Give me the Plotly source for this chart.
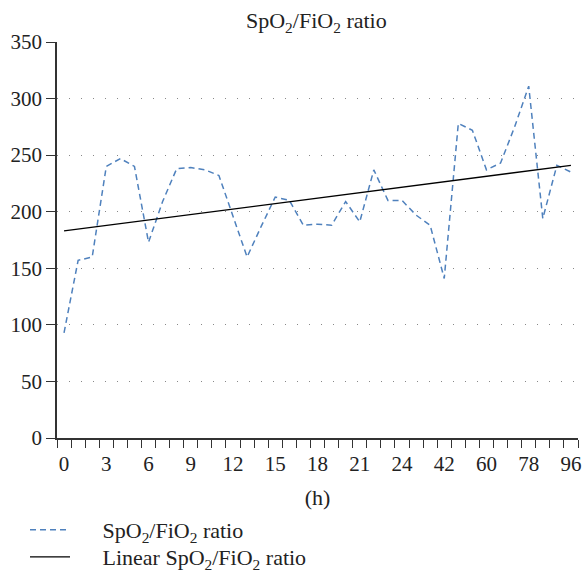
import plotly.graph_objects as go

# Category labels (hours) – 37 time points
hours = [str(h) for h in range(0, 25)] + [str(h) for h in range(30, 97, 6)]
label_hours = ["0", "3", "6", "9", "12", "15", "18", "21", "24", "42", "60", "78", "96"]

ratio = [93, 157, 160, 240, 247, 240, 173, 209, 238, 239, 237, 232, 196, 160,
         187, 213, 210, 188, 189, 188, 209, 191, 237, 210, 210, 197, 188, 141,
         278, 272, 237, 243, 275, 311, 194, 241, 235]

# Linear trend (start and end values)
trend_ends = [183, 241]

idx = list(range(len(hours)))
label_idx = [hours.index(h) for h in label_hours]

font_family = "Liberation Serif, DejaVu Serif, Times New Roman, serif"
fs = 22
fs_tick = 21
pad = "\u00a0" * 5

fig = go.Figure()
fig.add_trace(go.Scatter(
    x=idx, y=ratio, mode="lines",
    name=pad + "SpO<sub>2</sub>/FiO<sub>2</sub> ratio", legend="legend",
    line=dict(color="#4f81bd", width=1.5, dash="6px,4px"),
))
fig.add_trace(go.Scatter(
    x=[idx[0], idx[-1]], y=trend_ends, mode="lines",
    name=pad + "Linear SpO<sub>2</sub>/FiO<sub>2</sub> ratio", legend="legend2",
    line=dict(color="black", width=1.3),
))

legend_common = dict(orientation="v", x=-0.0614, xanchor="left", yanchor="middle",
                     font=dict(size=fs, family=font_family), itemwidth=40,
                     bgcolor="rgba(0,0,0,0)", borderwidth=0, maxheight=1)

fig.update_layout(
    width=584, height=573,
    margin=dict(l=57, r=6, t=42, b=135, autoexpand=False),
    paper_bgcolor="white", plot_bgcolor="white",
    font=dict(family=font_family, size=fs, color="#222"),
    title=dict(text="SpO<sub>2</sub>/FiO<sub>2</sub> ratio", x=0.5417, xanchor="center",
               y=0.964, yanchor="middle", font=dict(size=fs, family=font_family, color="#222")),
    showlegend=True,
    legend=dict(y=-0.2323, **legend_common),
    legend2=dict(y=-0.3006, **legend_common),
)

fig.update_xaxes(
    range=[-0.5, len(hours) - 0.5],
    tickmode="array", tickvals=label_idx, ticktext=label_hours,
    ticks="", showgrid=False, zeroline=False,
    showline=True, linecolor="#333", linewidth=1.5,
    tickfont=dict(size=fs_tick, family=font_family),
    ticklabelstandoff=6,
    minor=dict(ticks="outside", tick0=0.5, dtick=1, ticklen=8, tickcolor="#333", tickwidth=1.2, showgrid=False),
    title=dict(text="(h)", font=dict(size=fs, family=font_family), standoff=15),
)
fig.update_yaxes(
    range=[0, 350], tickmode="linear", tick0=0, dtick=50,
    ticks="outside", ticklen=9, tickcolor="#333", tickwidth=1.2,
    showline=True, linecolor="#333", linewidth=1.5,
    showgrid=True, gridcolor="#888", griddash="1px,11px", gridwidth=1,
    zeroline=False,
    tickfont=dict(size=fs_tick, family=font_family),
)

fig.write_html(
    "out.html",
    config={"displayModeBar": False},
    post_script="document.body.style.margin='0';document.body.style.overflow='hidden';",
)
